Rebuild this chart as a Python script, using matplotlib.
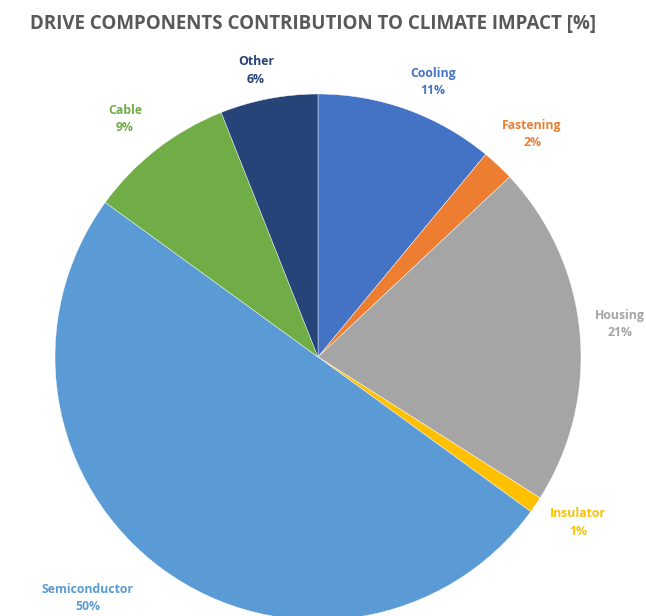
import matplotlib
matplotlib.use("Agg")
import matplotlib.pyplot as plt

# Component shares of climate impact, clockwise from 12 o'clock
components = ["Cooling", "Fastening", "Housing", "Insulator", "Semiconductor", "Cable", "Other"]
shares = [11, 2, 21, 1, 50, 9, 6]

colors = ["#4472C4", "#ED7D31", "#A5A5A5", "#FFC000", "#5B9BD5", "#70AD47", "#264478"]

# Label anchor points (in pie-radius units relative to the centre)
label_xy = [(0.437, 1.046), (0.814, 0.848), (1.148, 0.125), (0.989, -0.63),
            (-0.875, -0.916), (-0.734, 0.905), (-0.236, 1.09)]

W, H = 646, 616
fig = plt.figure(figsize=(W / 100, H / 100), dpi=100)
fig.patch.set_facecolor("white")

cx, cy, r = 318, 357, 263
ax = fig.add_axes([(cx - r) / W, (H - cy - r) / H, 2 * r / W, 2 * r / H])
ax.set_xlim(-1, 1)
ax.set_ylim(-1, 1)
ax.set_aspect("equal")
ax.axis("off")

ax.pie(shares, colors=colors, startangle=90, counterclock=False, radius=1,
       wedgeprops=dict(edgecolor="white", linewidth=0.3))
ax.set_xlim(-1, 1)
ax.set_ylim(-1, 1)

for name, val, col, (lx, ly) in zip(components, shares, colors, label_xy):
    ax.text(lx, ly, f"{name}\n{val}%", color=col, ha="center", va="center",
            fontsize=8.8, fontweight="bold", family="Open Sans",
            linespacing=1.45, clip_on=False)

fig.text(313 / W, 1 - 24 / H, "DRIVE COMPONENTS CONTRIBUTION TO CLIMATE IMPACT [%]",
         ha="center", va="center", fontsize=13.5, fontweight="bold",
         family="Open Sans", color="#595959")

fig.savefig("out.png", dpi=100, facecolor="white")
